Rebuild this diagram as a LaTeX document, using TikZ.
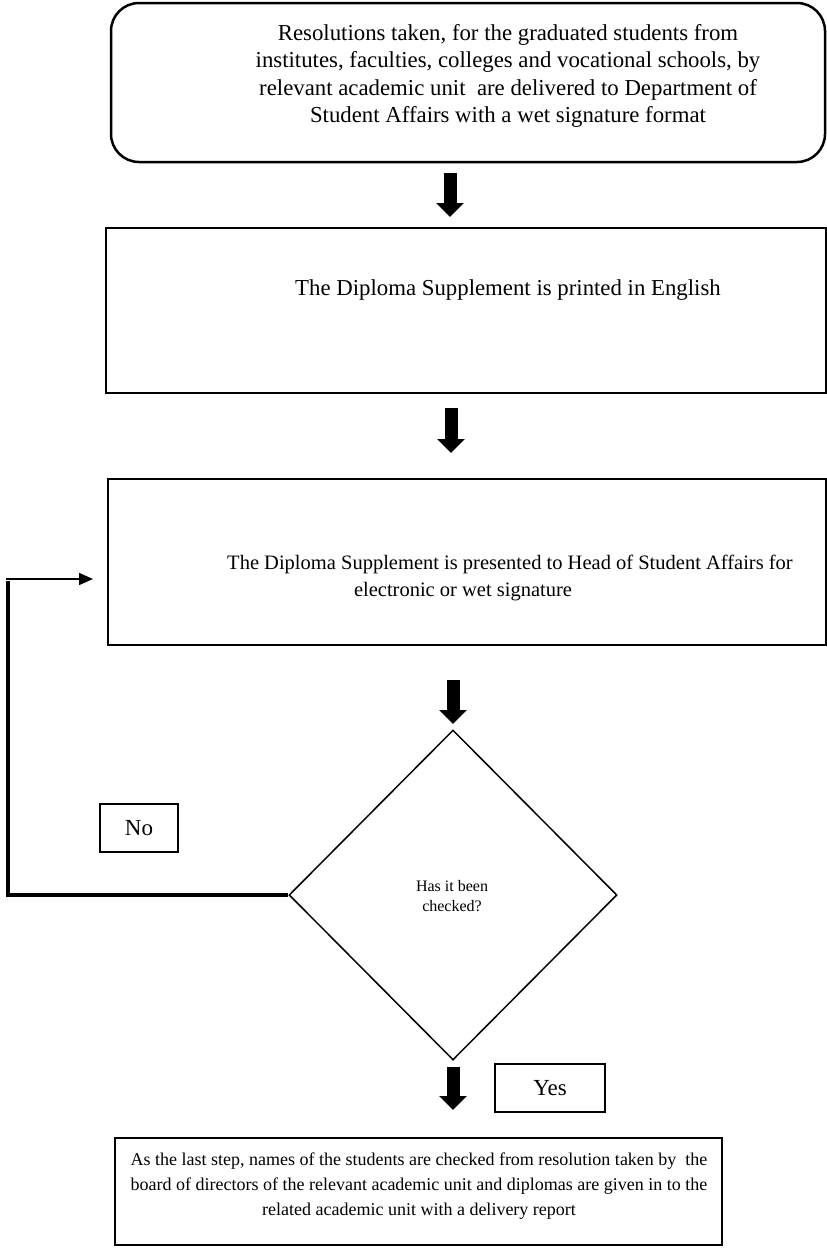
\documentclass[tikz,border=0pt]{standalone}
\usepackage{fontspec}
\setmainfont{Liberation Serif}
\usetikzlibrary{arrows.meta,shapes.geometric,calc}
\begin{document}
\begin{tikzpicture}[x=1pt,y=-1pt,
  boxstyle/.style={draw, line width=2pt, inner sep=0pt},
  thinbox/.style={draw, line width=1.5pt, inner sep=0pt},
  bigtext/.style={font=\fontsize{22.8}{27.5}\selectfont, align=center, inner sep=0pt},
  midtext/.style={font=\fontsize{20.5}{27}\selectfont, align=center, inner sep=0pt},
  smalltext/.style={font=\fontsize{18}{25}\selectfont, align=center, inner sep=0pt},
  blockarr/.style={line width=13pt, -{Triangle[width=27pt,length=14pt]}},
  loopline/.style={line width=3.5pt},
  looparrow/.style={line width=1.5pt, -{Triangle[width=12pt,length=14pt]}}]
\useasboundingbox (0,0) rectangle (827,1248);
\fill[white] (0,0) rectangle (827,1248);

% top rounded box
\node[draw, line width=2.5pt, rounded corners=28pt, minimum width=714pt, minimum height=159pt, inner sep=0pt] (r) at (468,82.5) {};
\node[bigtext] (rt) at (508,76) {Resolutions taken, for the graduated students from\\
institutes, faculties, colleges and vocational schools, by\\
relevant academic unit\ \ are delivered to Department of\\
Student Affairs with a wet signature format};

% box 2
\node[boxstyle, minimum width=720pt, minimum height=165pt] (b2) at (466,310.5) {};
\node[bigtext] (b2t) at (508,290) {The Diploma Supplement is printed in English};

% box 3
\node[boxstyle, minimum width=718pt, minimum height=166pt] (b3) at (467,562) {};
\node[midtext] (b3t) at (510,578) {The Diploma Supplement is presented to Head of Student Affairs for\\
electronic or wet signature\hspace*{94pt}};

% diamond
\node[draw, diamond, line width=1.5pt, minimum width=328pt, minimum height=330pt, inner sep=0pt] (d) at (453,895) {};
\node[font=\fontsize{16}{20}\selectfont, align=center, inner sep=0pt] (dt) at (452,896) {Has it been\\checked?};

% No / Yes boxes
\node[thinbox, minimum width=78pt, minimum height=48pt, font=\fontsize{23}{27}\selectfont] (no) at (139,828) {No};
\node[thinbox, minimum width=110pt, minimum height=48pt, font=\fontsize{23}{27}\selectfont] (yes) at (550,1088) {Yes};

% bottom box
\node[thinbox, minimum width=607pt, minimum height=107pt] (bot) at (418.5,1191.5) {};
\node[smalltext] (bott) at (419,1186) {As the last step, names of the students are checked from resolution taken by\ \ the\\
board of directors of the relevant academic unit and diplomas are given in to the\\
related academic unit with a delivery report};

% block arrows
\coordinate (a1s) at (450,173); \coordinate (a1e) at (450,217);
\coordinate (a2s) at (451,408); \coordinate (a2e) at (451,453);
\coordinate (a3s) at (453,680); \coordinate (a3e) at (453,724);
\coordinate (a4s) at (453,1067); \coordinate (a4e) at (453,1110);
\draw[blockarr] (a1s) -- (a1e);
\draw[blockarr] (a2s) -- (a2e);
\draw[blockarr] (a3s) -- (a3e);
\draw[blockarr] (a4s) -- (a4e);

% loop back
\coordinate (lc1) at (8,895);
\coordinate (lc2) at (8,579);
\coordinate (lend) at (93,579);
\draw[loopline] (d.west) -- (lc1) -- ([yshift=-1.75pt]lc2);
\draw[looparrow] ([xshift=-1.75pt]lc2) -- (lend);
\end{tikzpicture}
\end{document}
